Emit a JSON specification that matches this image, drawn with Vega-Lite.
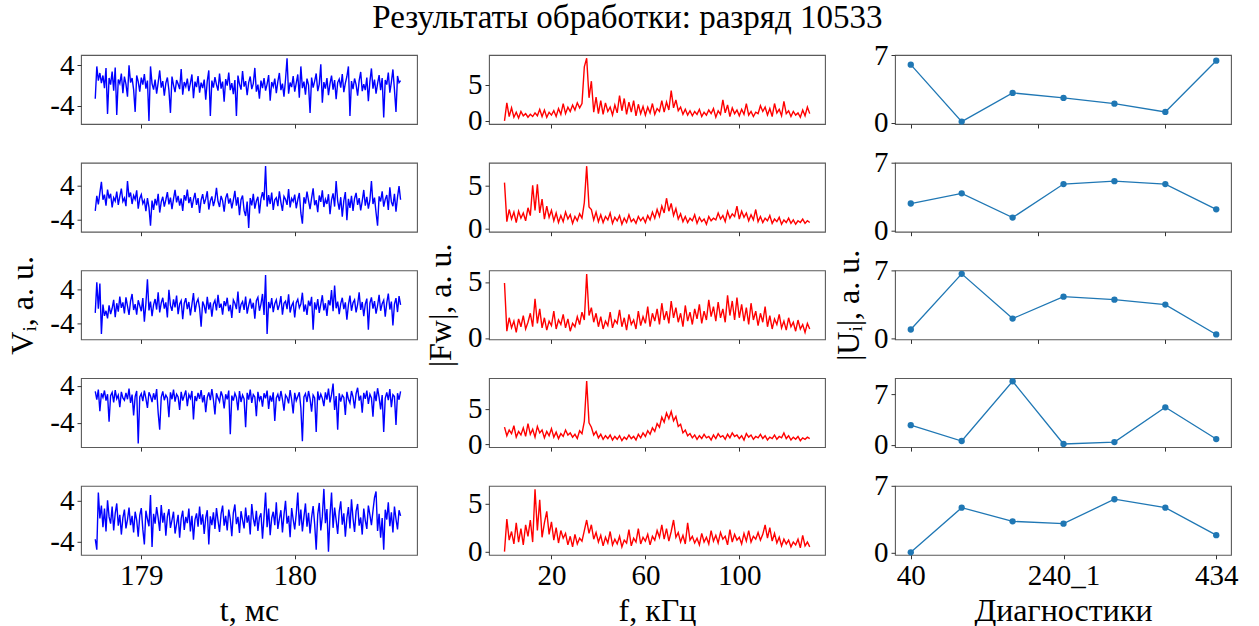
{
  "$schema": "https://vega.github.io/schema/vega-lite/v6.json",
  "title": {"text": "Результаты обработки: разряд 10533", "font": "Liberation Serif, Times New Roman, serif", "fontSize": 33, "fontWeight": "normal", "color": "#000", "anchor": "middle", "offset": 5, "dx": 5},
  "padding": {"left": 6, "right": 20, "top": 2, "bottom": 4},
  "background": "white",
  "config": {
    "view": {"stroke": "#5a5a5a", "strokeWidth": 1.1},
    "axis": {"domain": false, "grid": false, "tickColor": "#333", "tickSize": 4, "tickWidth": 1, "labelFont": "Liberation Serif, Times New Roman, serif", "labelFontSize": 29, "labelColor": "#000", "labelPadding": 3, "labelFlush": false, "labelOverlap": false, "labelBound": false, "titleFont": "Liberation Serif, Times New Roman, serif", "titleFontSize": 32, "titleFontWeight": "normal", "titleColor": "#000"},
    "line": {"clip": true}
  },
  "datasets": {
    "signal": [
      {"t":178.70,"v1":-2.6,"v2":-2.0,"v3":-1.5,"v4":2.8,"v5":-3.5},
      {"t":178.71,"v1":3.8,"v2":1.5,"v3":5.8,"v4":1.0,"v5":-5.5},
      {"t":178.72,"v1":1.0,"v2":-0.5,"v3":-0.5,"v4":3.2,"v5":5.5},
      {"t":178.73,"v1":2.5,"v2":2.2,"v3":5.5,"v4":-1.5,"v5":0.5},
      {"t":178.74,"v1":0.5,"v2":4.8,"v3":-6.5,"v4":2.4,"v5":3.0},
      {"t":178.75,"v1":2.0,"v2":0.6,"v3":0.5,"v4":1.5,"v5":-1.2},
      {"t":178.76,"v1":-0.5,"v2":1.8,"v3":-2.2,"v4":3.0,"v5":2.4},
      {"t":178.77,"v1":3.5,"v2":-0.8,"v3":-1.0,"v4":0.8,"v5":-2.0},
      {"t":178.78,"v1":-5.6,"v2":3.0,"v3":-2.8,"v4":2.2,"v5":4.0},
      {"t":178.79,"v1":1.5,"v2":0.9,"v3":0.3,"v4":-3.8,"v5":0.8},
      {"t":178.80,"v1":0.2,"v2":2.0,"v3":-1.8,"v4":1.9,"v5":-0.5},
      {"t":178.81,"v1":2.8,"v2":-1.2,"v3":-0.4,"v4":2.6,"v5":2.8},
      {"t":178.82,"v1":-1.0,"v2":1.1,"v3":1.6,"v4":0.4,"v5":-1.8},
      {"t":178.83,"v1":3.6,"v2":0.3,"v3":-2.5,"v4":3.1,"v5":1.5},
      {"t":178.84,"v1":-5.8,"v2":2.5,"v3":0.8,"v4":1.2,"v5":3.4},
      {"t":178.85,"v1":1.2,"v2":-0.6,"v3":-1.2,"v4":2.0,"v5":-0.9},
      {"t":178.86,"v1":0.4,"v2":1.4,"v3":2.4,"v4":-0.6,"v5":1.2},
      {"t":178.87,"v1":2.4,"v2":3.2,"v3":-0.3,"v4":2.7,"v5":-2.6},
      {"t":178.88,"v1":-1.5,"v2":0.2,"v3":1.0,"v4":1.4,"v5":0.6},
      {"t":178.89,"v1":1.8,"v2":1.0,"v3":-1.6,"v4":0.9,"v5":2.2},
      {"t":178.90,"v1":0.3,"v2":-0.9,"v3":2.2,"v4":2.5,"v5":-1.4},
      {"t":178.91,"v1":-2.2,"v2":5.0,"v3":0.1,"v4":1.1,"v5":0.3},
      {"t":178.92,"v1":4.0,"v2":1.2,"v3":-2.0,"v4":3.4,"v5":2.6},
      {"t":178.93,"v1":0.6,"v2":2.3,"v3":1.3,"v4":0.3,"v5":-0.8},
      {"t":178.94,"v1":1.5,"v2":-0.4,"v3":3.0,"v4":2.1,"v5":1.0},
      {"t":178.95,"v1":-0.8,"v2":1.6,"v3":-0.8,"v4":-2.4,"v5":-2.2},
      {"t":178.96,"v1":-5.2,"v2":0.7,"v3":0.6,"v4":1.7,"v5":1.8},
      {"t":178.97,"v1":2.0,"v2":2.8,"v3":-1.9,"v4":2.9,"v5":0.2},
      {"t":178.98,"v1":0.8,"v2":-1.5,"v3":1.5,"v4":-8.5,"v5":-3.0},
      {"t":178.99,"v1":-1.2,"v2":0.9,"v3":0.2,"v4":1.6,"v5":1.1},
      {"t":179.00,"v1":1.6,"v2":1.8,"v3":-1.1,"v4":2.3,"v5":2.5},
      {"t":179.01,"v1":0.2,"v2":-0.3,"v3":2.0,"v4":0.7,"v5":-1.6},
      {"t":179.02,"v1":2.3,"v2":0.5,"v3":-3.6,"v4":3.0,"v5":-4.5},
      {"t":179.03,"v1":-0.6,"v2":-2.1,"v3":0.7,"v4":1.3,"v5":2.0},
      {"t":179.04,"v1":1.0,"v2":1.0,"v3":6.5,"v4":-0.8,"v5":0.4},
      {"t":179.05,"v1":-7.0,"v2":-1.2,"v3":-0.9,"v4":2.6,"v5":-1.0},
      {"t":179.06,"v1":3.8,"v2":-5.5,"v3":1.2,"v4":1.8,"v5":5.0},
      {"t":179.07,"v1":0.4,"v2":0.4,"v3":-2.3,"v4":0.5,"v5":-5.0},
      {"t":179.08,"v1":-0.8,"v2":-1.8,"v3":0.4,"v4":2.4,"v5":1.4},
      {"t":179.09,"v1":1.2,"v2":0.8,"v3":1.8,"v4":1.0,"v5":-0.5},
      {"t":179.10,"v1":-1.6,"v2":-0.7,"v3":-0.7,"v4":3.3,"v5":2.7},
      {"t":179.11,"v1":0.6,"v2":2.0,"v3":3.4,"v4":-1.9,"v5":0.6},
      {"t":179.12,"v1":3.0,"v2":-2.4,"v3":-1.4,"v4":-5.5,"v5":-1.9},
      {"t":179.13,"v1":-0.4,"v2":0.1,"v3":0.9,"v4":1.5,"v5":3.1},
      {"t":179.14,"v1":0.9,"v2":1.3,"v3":2.1,"v4":2.8,"v5":-0.3},
      {"t":179.15,"v1":-2.0,"v2":-1.0,"v3":-0.5,"v4":0.9,"v5":1.6},
      {"t":179.16,"v1":0.5,"v2":0.6,"v3":1.0,"v4":2.0,"v5":-2.8},
      {"t":179.17,"v1":1.6,"v2":2.4,"v3":-2.6,"v4":1.4,"v5":0.9},
      {"t":179.18,"v1":-0.9,"v2":-0.5,"v3":4.0,"v4":-2.8,"v5":2.3},
      {"t":179.19,"v1":-5.4,"v2":1.1,"v3":0.3,"v4":2.6,"v5":-1.3},
      {"t":179.20,"v1":1.8,"v2":-1.6,"v3":-1.0,"v4":1.1,"v5":0.2},
      {"t":179.21,"v1":0.1,"v2":0.8,"v3":1.7,"v4":3.2,"v5":1.8},
      {"t":179.22,"v1":-1.3,"v2":2.9,"v3":-0.2,"v4":0.6,"v5":-2.4},
      {"t":179.23,"v1":1.1,"v2":0.0,"v3":2.6,"v4":2.2,"v5":-0.6},
      {"t":179.24,"v1":0.3,"v2":1.5,"v3":-1.8,"v4":1.6,"v5":1.2},
      {"t":179.25,"v1":-0.7,"v2":-0.8,"v3":0.6,"v4":-1.2,"v5":-3.2},
      {"t":179.26,"v1":3.3,"v2":0.9,"v3":1.4,"v4":2.7,"v5":0.5},
      {"t":179.27,"v1":-1.8,"v2":-2.0,"v3":-3.0,"v4":0.8,"v5":2.0},
      {"t":179.28,"v1":0.7,"v2":1.7,"v3":0.8,"v4":1.9,"v5":-1.7},
      {"t":179.29,"v1":-0.2,"v2":0.4,"v3":2.0,"v4":3.0,"v5":0.8},
      {"t":179.30,"v1":1.4,"v2":3.0,"v3":-0.6,"v4":-0.4,"v5":-0.4},
      {"t":179.31,"v1":-1.1,"v2":-0.2,"v3":1.1,"v4":2.1,"v5":2.4},
      {"t":179.32,"v1":0.5,"v2":1.2,"v3":-2.1,"v4":1.3,"v5":-2.0},
      {"t":179.33,"v1":2.2,"v2":-1.3,"v3":0.5,"v4":2.9,"v5":1.0},
      {"t":179.34,"v1":-2.5,"v2":0.7,"v3":3.2,"v4":-3.3,"v5":-3.6},
      {"t":179.35,"v1":0.8,"v2":2.2,"v3":-1.3,"v4":1.8,"v5":0.3},
      {"t":179.36,"v1":-0.3,"v2":-0.6,"v3":0.9,"v4":0.7,"v5":1.5},
      {"t":179.37,"v1":1.9,"v2":1.0,"v3":1.8,"v4":2.5,"v5":-1.1},
      {"t":179.38,"v1":-1.4,"v2":-2.5,"v3":-0.4,"v4":1.2,"v5":2.8},
      {"t":179.39,"v1":0.6,"v2":0.5,"v3":-4.8,"v4":3.1,"v5":-0.7},
      {"t":179.40,"v1":-0.5,"v2":1.9,"v3":1.2,"v4":0.4,"v5":1.3},
      {"t":179.41,"v1":1.2,"v2":-0.4,"v3":0.2,"v4":2.0,"v5":-2.5},
      {"t":179.42,"v1":-2.8,"v2":0.8,"v3":-1.6,"v4":-1.7,"v5":0.6},
      {"t":179.43,"v1":0.9,"v2":2.6,"v3":2.3,"v4":1.5,"v5":2.1},
      {"t":179.44,"v1":3.0,"v2":-1.7,"v3":-0.7,"v4":2.6,"v5":-4.5},
      {"t":179.45,"v1":-6.0,"v2":0.3,"v3":1.0,"v4":0.9,"v5":0.9},
      {"t":179.46,"v1":1.0,"v2":1.4,"v3":-2.4,"v4":3.3,"v5":-0.8},
      {"t":179.47,"v1":-0.4,"v2":-0.9,"v3":0.6,"v4":1.0,"v5":1.7},
      {"t":179.48,"v1":1.7,"v2":0.6,"v3":1.5,"v4":-2.2,"v5":-1.5},
      {"t":179.49,"v1":0.2,"v2":3.4,"v3":-0.9,"v4":2.4,"v5":2.5},
      {"t":179.50,"v1":-1.0,"v2":0.2,"v3":2.8,"v4":1.4,"v5":0.1},
      {"t":179.51,"v1":2.4,"v2":-1.1,"v3":-0.3,"v4":0.6,"v5":-2.1},
      {"t":179.52,"v1":-0.6,"v2":1.5,"v3":0.7,"v4":2.8,"v5":1.4},
      {"t":179.53,"v1":0.8,"v2":0.4,"v3":-1.9,"v4":1.7,"v5":3.0},
      {"t":179.54,"v1":-3.2,"v2":-2.2,"v3":1.3,"v4":-0.9,"v5":-0.9},
      {"t":179.55,"v1":1.3,"v2":1.0,"v3":0.1,"v4":2.2,"v5":1.0},
      {"t":179.56,"v1":0.0,"v2":2.1,"v3":2.1,"v4":1.1,"v5":-1.8},
      {"t":179.57,"v1":2.6,"v2":-0.3,"v3":-1.1,"v4":3.0,"v5":2.2},
      {"t":179.58,"v1":-0.9,"v2":0.9,"v3":0.4,"v4":-6.5,"v5":0.4},
      {"t":179.59,"v1":0.5,"v2":-1.4,"v3":-2.7,"v4":1.9,"v5":-2.9},
      {"t":179.60,"v1":-1.7,"v2":0.5,"v3":1.6,"v4":0.8,"v5":1.6},
      {"t":179.61,"v1":1.1,"v2":2.7,"v3":0.8,"v4":2.4,"v5":3.2},
      {"t":179.62,"v1":-6.0,"v2":-0.8,"v3":-0.6,"v4":1.5,"v5":-0.6},
      {"t":179.63,"v1":2.0,"v2":1.2,"v3":3.6,"v4":-1.3,"v5":0.8},
      {"t":179.64,"v1":0.3,"v2":-3.0,"v3":-1.5,"v4":2.9,"v5":-2.3},
      {"t":179.65,"v1":-0.8,"v2":0.6,"v3":0.5,"v4":0.5,"v5":1.9},
      {"t":179.66,"v1":2.9,"v2":1.6,"v3":1.2,"v4":2.0,"v5":0.2},
      {"t":179.67,"v1":-0.2,"v2":-1.9,"v3":-0.8,"v4":1.2,"v5":-1.4},
      {"t":179.68,"v1":0.9,"v2":-3.2,"v3":2.4,"v4":-5.0,"v5":2.6},
      {"t":179.69,"v1":-1.9,"v2":0.2,"v3":-1.7,"v4":2.5,"v5":-0.3},
      {"t":179.70,"v1":0.6,"v2":-6.0,"v3":0.3,"v4":1.0,"v5":1.1},
      {"t":179.71,"v1":1.8,"v2":1.0,"v3":1.9,"v4":3.2,"v5":-2.6},
      {"t":179.72,"v1":-0.7,"v2":-0.7,"v3":-0.5,"v4":0.3,"v5":3.3},
      {"t":179.73,"v1":0.4,"v2":2.0,"v3":0.9,"v4":2.1,"v5":0.5},
      {"t":179.74,"v1":3.5,"v2":-1.5,"v3":-2.9,"v4":1.6,"v5":-1.0},
      {"t":179.75,"v1":-1.2,"v2":0.3,"v3":1.4,"v4":-2.6,"v5":2.0},
      {"t":179.76,"v1":0.2,"v2":1.3,"v3":2.2,"v4":2.7,"v5":-1.9},
      {"t":179.77,"v1":-2.6,"v2":-2.6,"v3":-1.0,"v4":0.9,"v5":0.7},
      {"t":179.78,"v1":1.0,"v2":0.8,"v3":0.6,"v4":1.8,"v5":1.5},
      {"t":179.79,"v1":-0.5,"v2":2.4,"v3":3.0,"v4":-0.5,"v5":-3.4},
      {"t":179.80,"v1":1.5,"v2":0.5,"v3":-2.0,"v4":2.4,"v5":0.9},
      {"t":179.81,"v1":-1.0,"v2":8.5,"v3":7.5,"v4":1.3,"v5":5.5},
      {"t":179.82,"v1":0.3,"v2":-1.0,"v3":-6.5,"v4":3.0,"v5":-1.2},
      {"t":179.83,"v1":2.1,"v2":1.7,"v3":1.1,"v4":-1.0,"v5":2.4},
      {"t":179.84,"v1":-3.0,"v2":-0.4,"v3":-0.4,"v4":1.9,"v5":-2.7},
      {"t":179.85,"v1":0.7,"v2":2.3,"v3":2.0,"v4":0.6,"v5":0.6},
      {"t":179.86,"v1":-0.2,"v2":-1.8,"v3":-1.3,"v4":2.6,"v5":1.8},
      {"t":179.87,"v1":1.4,"v2":0.6,"v3":0.7,"v4":-3.6,"v5":-0.8},
      {"t":179.88,"v1":-1.5,"v2":1.1,"v3":1.6,"v4":1.4,"v5":3.6},
      {"t":179.89,"v1":0.8,"v2":-0.9,"v3":-0.8,"v4":2.2,"v5":-1.5},
      {"t":179.90,"v1":2.5,"v2":2.6,"v3":0.4,"v4":0.7,"v5":0.4},
      {"t":179.91,"v1":-0.9,"v2":0.0,"v3":2.5,"v4":2.9,"v5":2.1},
      {"t":179.92,"v1":0.4,"v2":-2.0,"v3":-1.9,"v4":1.1,"v5":-2.2},
      {"t":179.93,"v1":-2.2,"v2":1.4,"v3":0.8,"v4":-1.4,"v5":1.2},
      {"t":179.94,"v1":1.2,"v2":0.7,"v3":1.3,"v4":2.0,"v5":3.9},
      {"t":179.95,"v1":5.4,"v2":-0.6,"v3":-0.6,"v4":1.5,"v5":-0.5},
      {"t":179.96,"v1":-1.6,"v2":3.1,"v3":2.9,"v4":0.2,"v5":1.0},
      {"t":179.97,"v1":0.6,"v2":-1.2,"v3":-1.4,"v4":3.1,"v5":-3.1},
      {"t":179.98,"v1":-0.3,"v2":0.9,"v3":0.2,"v4":1.0,"v5":2.5},
      {"t":179.99,"v1":1.9,"v2":0.2,"v3":1.0,"v4":-2.0,"v5":0.3},
      {"t":180.00,"v1":-1.2,"v2":1.8,"v3":-2.6,"v4":2.5,"v5":-1.6},
      {"t":180.01,"v1":0.5,"v2":-1.4,"v3":0.9,"v4":0.8,"v5":1.4},
      {"t":180.02,"v1":2.2,"v2":0.6,"v3":1.7,"v4":1.7,"v5":5.5},
      {"t":180.03,"v1":-2.4,"v2":2.2,"v3":-0.3,"v4":2.6,"v5":-0.9},
      {"t":180.04,"v1":3.8,"v2":-2.5,"v3":0.6,"v4":-0.8,"v5":2.2},
      {"t":180.05,"v1":-0.5,"v2":-5.0,"v3":3.3,"v4":-8.0,"v5":-2.0},
      {"t":180.06,"v1":0.8,"v2":1.2,"v3":-1.2,"v4":1.6,"v5":0.8},
      {"t":180.07,"v1":-1.8,"v2":-0.3,"v3":0.5,"v4":2.3,"v5":3.4},
      {"t":180.08,"v1":1.4,"v2":2.5,"v3":-2.0,"v4":0.5,"v5":-1.1},
      {"t":180.09,"v1":0.1,"v2":0.4,"v3":1.4,"v4":2.9,"v5":1.6},
      {"t":180.10,"v1":-5.4,"v2":-1.6,"v3":0.1,"v4":1.2,"v5":-2.4},
      {"t":180.11,"v1":1.6,"v2":1.0,"v3":2.3,"v4":-1.6,"v5":0.7},
      {"t":180.12,"v1":-0.4,"v2":3.3,"v3":-5.5,"v4":2.0,"v5":2.9},
      {"t":180.13,"v1":0.9,"v2":-0.7,"v3":1.0,"v4":1.4,"v5":-0.6},
      {"t":180.14,"v1":2.4,"v2":0.5,"v3":-0.7,"v4":-6.0,"v5":-5.5},
      {"t":180.15,"v1":-1.1,"v2":-2.3,"v3":1.8,"v4":2.8,"v5":1.3},
      {"t":180.16,"v1":0.3,"v2":1.6,"v3":-1.5,"v4":0.9,"v5":3.5},
      {"t":180.17,"v1":4.2,"v2":0.1,"v3":0.6,"v4":2.2,"v5":-1.8},
      {"t":180.18,"v1":-3.4,"v2":2.8,"v3":2.7,"v4":1.3,"v5":0.9},
      {"t":180.19,"v1":0.7,"v2":-1.1,"v3":-0.9,"v4":-0.4,"v5":6.2},
      {"t":180.20,"v1":-0.6,"v2":0.7,"v3":0.8,"v4":2.6,"v5":-0.4},
      {"t":180.21,"v1":1.5,"v2":-0.4,"v3":-2.2,"v4":1.0,"v5":2.3},
      {"t":180.22,"v1":-1.9,"v2":1.9,"v3":1.5,"v4":3.4,"v5":-5.9},
      {"t":180.23,"v1":0.4,"v2":-2.8,"v3":0.3,"v4":0.4,"v5":1.1},
      {"t":180.24,"v1":2.0,"v2":0.6,"v3":3.9,"v4":2.1,"v5":5.5},
      {"t":180.25,"v1":-0.8,"v2":2.1,"v3":-1.1,"v4":4.5,"v5":-1.3},
      {"t":180.26,"v1":1.1,"v2":-1.0,"v3":5.0,"v4":-1.2,"v5":2.6},
      {"t":180.27,"v1":-2.7,"v2":5.0,"v3":-0.4,"v4":1.8,"v5":0.2},
      {"t":180.28,"v1":0.6,"v2":0.3,"v3":1.2,"v4":-5.5,"v5":-2.5},
      {"t":180.29,"v1":1.3,"v2":-1.7,"v3":-1.8,"v4":2.4,"v5":1.8},
      {"t":180.30,"v1":-0.4,"v2":1.2,"v3":0.7,"v4":0.6,"v5":3.8},
      {"t":180.31,"v1":2.3,"v2":-3.4,"v3":2.1,"v4":2.0,"v5":-0.7},
      {"t":180.32,"v1":-1.3,"v2":0.4,"v3":-0.6,"v4":1.5,"v5":1.5},
      {"t":180.33,"v1":0.5,"v2":2.4,"v3":1.0,"v4":-2.3,"v5":-3.0},
      {"t":180.34,"v1":1.8,"v2":-4.2,"v3":-3.1,"v4":2.7,"v5":0.6},
      {"t":180.35,"v1":3.8,"v2":0.8,"v3":0.4,"v4":1.1,"v5":2.7},
      {"t":180.36,"v1":-6.0,"v2":-1.3,"v3":2.6,"v4":0.3,"v5":-1.4},
      {"t":180.37,"v1":0.9,"v2":1.5,"v3":-1.0,"v4":2.9,"v5":4.2},
      {"t":180.38,"v1":-0.7,"v2":-2.0,"v3":0.9,"v4":1.6,"v5":0.5},
      {"t":180.39,"v1":1.4,"v2":0.9,"v3":1.6,"v4":-0.9,"v5":-2.1},
      {"t":180.40,"v1":0.2,"v2":2.2,"v3":-1.4,"v4":2.3,"v5":1.9},
      {"t":180.41,"v1":-2.0,"v2":-0.6,"v3":0.5,"v4":3.6,"v5":3.3},
      {"t":180.42,"v1":1.0,"v2":1.0,"v3":3.4,"v4":0.8,"v5":-0.9},
      {"t":180.43,"v1":2.7,"v2":-1.9,"v3":-0.8,"v4":1.9,"v5":0.7},
      {"t":180.44,"v1":-1.1,"v2":0.3,"v3":1.1,"v4":-1.8,"v5":-2.6},
      {"t":180.45,"v1":0.3,"v2":2.9,"v3":-2.3,"v4":2.5,"v5":2.4},
      {"t":180.46,"v1":-0.9,"v2":-0.8,"v3":0.6,"v4":1.2,"v5":0.1},
      {"t":180.47,"v1":1.6,"v2":1.3,"v3":1.9,"v4":3.0,"v5":-1.5},
      {"t":180.48,"v1":-3.1,"v2":-1.5,"v3":-5.5,"v4":0.1,"v5":3.0},
      {"t":180.49,"v1":0.8,"v2":0.5,"v3":0.8,"v4":2.2,"v5":1.2},
      {"t":180.50,"v1":3.4,"v2":5.0,"v3":2.2,"v4":1.4,"v5":-0.8},
      {"t":180.51,"v1":-0.6,"v2":-0.4,"v3":-0.5,"v4":-2.7,"v5":2.0},
      {"t":180.52,"v1":1.2,"v2":1.1,"v3":1.3,"v4":2.8,"v5":4.5},
      {"t":180.53,"v1":-1.6,"v2":-2.4,"v3":-1.7,"v4":0.7,"v5":5.7},
      {"t":180.54,"v1":0.4,"v2":-5.5,"v3":0.2,"v4":3.5,"v5":-1.9},
      {"t":180.55,"v1":2.1,"v2":1.4,"v3":2.8,"v4":1.5,"v5":1.4},
      {"t":180.56,"v1":-0.9,"v2":0.2,"v3":-1.0,"v4":-1.1,"v5":-3.2},
      {"t":180.57,"v1":1.5,"v2":2.6,"v3":0.7,"v4":2.0,"v5":0.6},
      {"t":180.58,"v1":-6.3,"v2":-1.0,"v3":1.5,"v4":-6.0,"v5":-5.5},
      {"t":180.59,"v1":1.1,"v2":0.7,"v3":-2.4,"v4":1.3,"v5":2.2},
      {"t":180.60,"v1":0.2,"v2":1.7,"v3":0.9,"v4":2.6,"v5":0.3},
      {"t":180.61,"v1":2.6,"v2":-1.8,"v3":3.1,"v4":0.9,"v5":3.6},
      {"t":180.62,"v1":-1.4,"v2":3.5,"v3":-0.7,"v4":3.3,"v5":-1.0},
      {"t":180.63,"v1":0.7,"v2":0.1,"v3":1.2,"v4":-0.6,"v5":1.7},
      {"t":180.64,"v1":3.2,"v2":-0.9,"v3":-4.5,"v4":2.1,"v5":-2.2},
      {"t":180.65,"v1":-0.8,"v2":2.0,"v3":0.6,"v4":1.7,"v5":2.8},
      {"t":180.66,"v1":-5.2,"v2":-2.2,"v3":2.0,"v4":-4.5,"v5":0.4},
      {"t":180.67,"v1":1.9,"v2":1.2,"v3":-1.3,"v4":2.4,"v5":-1.6},
      {"t":180.68,"v1":0.6,"v2":3.8,"v3":2.5,"v4":1.0,"v5":2.1},
      {"t":180.69,"v1":1.0,"v2":0.6,"v3":0.4,"v4":2.8,"v5":1.0}
    ],
    "spectrum": [
      {"f":0,"w1":0.0,"w2":5.3,"w3":4.9,"w4":2.4,"w5":0.0},
      {"f":1,"w1":2.5,"w2":0.8,"w3":0.6,"w4":1.2,"w5":3.4},
      {"f":2,"w1":0.6,"w2":2.2,"w3":1.8,"w4":2.0,"w5":1.2},
      {"f":3,"w1":1.8,"w2":1.1,"w3":0.9,"w4":1.5,"w5":2.1},
      {"f":4,"w1":0.5,"w2":1.9,"w3":1.5,"w4":2.6,"w5":0.8},
      {"f":5,"w1":1.2,"w2":0.7,"w3":0.5,"w4":1.0,"w5":3.0},
      {"f":6,"w1":0.4,"w2":2.0,"w3":1.7,"w4":1.8,"w5":1.0},
      {"f":7,"w1":1.3,"w2":1.2,"w3":1.0,"w4":1.3,"w5":2.4},
      {"f":8,"w1":0.7,"w2":1.8,"w3":2.0,"w4":2.3,"w5":0.7},
      {"f":9,"w1":1.0,"w2":0.9,"w3":0.8,"w4":1.1,"w5":2.8},
      {"f":10,"w1":0.5,"w2":2.4,"w3":1.4,"w4":2.9,"w5":1.6},
      {"f":11,"w1":0.9,"w2":1.5,"w3":2.2,"w4":1.4,"w5":3.3},
      {"f":12,"w1":0.6,"w2":5.0,"w3":1.0,"w4":2.1,"w5":1.0},
      {"f":13,"w1":1.1,"w2":2.1,"w3":3.5,"w4":1.0,"w5":6.5},
      {"f":14,"w1":0.7,"w2":5.1,"w3":1.3,"w4":2.5,"w5":2.2},
      {"f":15,"w1":1.6,"w2":1.8,"w3":2.6,"w4":1.6,"w5":5.4},
      {"f":16,"w1":0.6,"w2":3.4,"w3":0.9,"w4":2.0,"w5":1.5},
      {"f":17,"w1":1.5,"w2":1.1,"w3":1.8,"w4":0.9,"w5":3.0},
      {"f":18,"w1":0.5,"w2":2.6,"w3":0.7,"w4":1.8,"w5":4.2},
      {"f":19,"w1":1.2,"w2":1.3,"w3":1.5,"w4":1.2,"w5":1.8},
      {"f":20,"w1":0.8,"w2":2.1,"w3":1.1,"w4":2.2,"w5":3.1},
      {"f":21,"w1":1.4,"w2":0.9,"w3":2.4,"w4":1.0,"w5":1.2},
      {"f":22,"w1":0.6,"w2":1.8,"w3":0.8,"w4":1.7,"w5":2.5},
      {"f":23,"w1":1.7,"w2":0.7,"w3":1.6,"w4":0.8,"w5":0.9},
      {"f":24,"w1":0.9,"w2":1.5,"w3":1.2,"w4":1.5,"w5":2.2},
      {"f":25,"w1":2.4,"w2":0.8,"w3":2.1,"w4":1.1,"w5":1.4},
      {"f":26,"w1":1.0,"w2":1.9,"w3":0.9,"w4":2.0,"w5":1.9},
      {"f":27,"w1":1.9,"w2":1.1,"w3":1.7,"w4":1.3,"w5":0.7},
      {"f":28,"w1":1.3,"w2":1.6,"w3":0.6,"w4":1.6,"w5":1.6},
      {"f":29,"w1":2.2,"w2":0.6,"w3":1.3,"w4":1.0,"w5":0.5},
      {"f":30,"w1":1.5,"w2":1.4,"w3":1.0,"w4":1.4,"w5":1.8},
      {"f":31,"w1":2.5,"w2":0.9,"w3":1.9,"w4":0.8,"w5":0.8},
      {"f":32,"w1":1.8,"w2":1.7,"w3":1.2,"w4":1.9,"w5":1.4},
      {"f":33,"w1":2.4,"w2":1.2,"w3":2.3,"w4":1.5,"w5":1.1},
      {"f":34,"w1":7.5,"w2":3.0,"w3":1.6,"w4":3.2,"w5":2.2},
      {"f":35,"w1":8.7,"w2":7.2,"w3":5.7,"w4":8.9,"w5":3.3},
      {"f":36,"w1":3.2,"w2":2.5,"w3":2.0,"w4":3.0,"w5":1.9},
      {"f":37,"w1":5.5,"w2":2.2,"w3":2.7,"w4":2.4,"w5":2.8},
      {"f":38,"w1":1.2,"w2":1.0,"w3":1.4,"w4":1.3,"w5":1.3},
      {"f":39,"w1":3.3,"w2":1.9,"w3":2.2,"w4":1.8,"w5":2.0},
      {"f":40,"w1":1.0,"w2":0.8,"w3":1.0,"w4":0.9,"w5":1.0},
      {"f":41,"w1":2.8,"w2":1.6,"w3":1.9,"w4":1.4,"w5":1.7},
      {"f":42,"w1":0.9,"w2":0.7,"w3":0.8,"w4":0.7,"w5":0.6},
      {"f":43,"w1":2.5,"w2":1.4,"w3":1.5,"w4":1.2,"w5":1.5},
      {"f":44,"w1":1.3,"w2":1.0,"w3":1.1,"w4":0.8,"w5":0.9},
      {"f":45,"w1":1.9,"w2":1.8,"w3":2.3,"w4":1.3,"w5":2.1},
      {"f":46,"w1":0.8,"w2":0.6,"w3":0.9,"w4":0.6,"w5":0.7},
      {"f":47,"w1":2.2,"w2":1.3,"w3":1.6,"w4":1.1,"w5":1.3},
      {"f":48,"w1":1.1,"w2":0.9,"w3":1.3,"w4":0.7,"w5":0.8},
      {"f":49,"w1":3.5,"w2":1.5,"w3":2.5,"w4":1.2,"w5":1.6},
      {"f":50,"w1":1.4,"w2":0.5,"w3":1.0,"w4":0.5,"w5":0.5},
      {"f":51,"w1":3.1,"w2":1.2,"w3":1.8,"w4":1.0,"w5":1.2},
      {"f":52,"w1":0.9,"w2":0.7,"w3":0.7,"w4":0.7,"w5":0.9},
      {"f":53,"w1":2.6,"w2":1.6,"w3":2.1,"w4":1.3,"w5":2.3},
      {"f":54,"w1":1.2,"w2":0.8,"w3":1.2,"w4":0.8,"w5":0.6},
      {"f":55,"w1":2.8,"w2":1.1,"w3":1.6,"w4":1.1,"w5":1.4},
      {"f":56,"w1":0.7,"w2":0.6,"w3":0.8,"w4":0.6,"w5":1.0},
      {"f":57,"w1":2.3,"w2":1.4,"w3":2.4,"w4":1.4,"w5":2.4},
      {"f":58,"w1":1.0,"w2":0.9,"w3":1.1,"w4":0.9,"w5":0.8},
      {"f":59,"w1":2.0,"w2":1.3,"w3":1.9,"w4":1.6,"w5":1.5},
      {"f":60,"w1":0.8,"w2":0.7,"w3":1.3,"w4":1.1,"w5":1.1},
      {"f":61,"w1":1.9,"w2":1.5,"w3":2.8,"w4":1.9,"w5":1.8},
      {"f":62,"w1":1.1,"w2":1.0,"w3":1.0,"w4":1.4,"w5":0.7},
      {"f":63,"w1":2.4,"w2":1.9,"w3":2.2,"w4":2.3,"w5":1.6},
      {"f":64,"w1":0.9,"w2":1.2,"w3":1.5,"w4":1.8,"w5":1.2},
      {"f":65,"w1":1.7,"w2":2.2,"w3":2.6,"w4":2.9,"w5":2.2},
      {"f":66,"w1":1.3,"w2":1.4,"w3":1.2,"w4":2.4,"w5":1.5},
      {"f":67,"w1":2.8,"w2":2.6,"w3":3.1,"w4":3.8,"w5":2.8},
      {"f":68,"w1":1.2,"w2":1.8,"w3":1.6,"w4":3.1,"w5":1.3},
      {"f":69,"w1":2.6,"w2":3.5,"w3":2.4,"w4":4.4,"w5":2.4},
      {"f":70,"w1":1.5,"w2":2.0,"w3":1.3,"w4":3.6,"w5":1.1},
      {"f":71,"w1":4.2,"w2":2.9,"w3":3.3,"w4":4.6,"w5":2.1},
      {"f":72,"w1":1.8,"w2":1.5,"w3":1.8,"w4":3.3,"w5":3.3},
      {"f":73,"w1":2.9,"w2":2.3,"w3":2.7,"w4":3.9,"w5":1.5},
      {"f":74,"w1":1.4,"w2":1.1,"w3":1.4,"w4":2.5,"w5":2.0},
      {"f":75,"w1":1.9,"w2":1.7,"w3":2.2,"w4":2.8,"w5":1.0},
      {"f":76,"w1":0.9,"w2":0.8,"w3":1.0,"w4":1.6,"w5":1.7},
      {"f":77,"w1":1.6,"w2":1.4,"w3":2.9,"w4":2.0,"w5":0.8},
      {"f":78,"w1":0.8,"w2":0.7,"w3":1.5,"w4":1.2,"w5":3.0},
      {"f":79,"w1":1.4,"w2":1.2,"w3":2.3,"w4":1.5,"w5":1.2},
      {"f":80,"w1":0.7,"w2":0.9,"w3":1.2,"w4":0.9,"w5":1.6},
      {"f":81,"w1":1.3,"w2":1.6,"w3":2.6,"w4":1.3,"w5":0.9},
      {"f":82,"w1":0.9,"w2":0.6,"w3":1.7,"w4":0.7,"w5":1.4},
      {"f":83,"w1":1.6,"w2":1.3,"w3":3.0,"w4":1.2,"w5":0.7},
      {"f":84,"w1":0.6,"w2":0.8,"w3":1.3,"w4":0.8,"w5":1.9},
      {"f":85,"w1":1.2,"w2":1.1,"w3":2.4,"w4":1.4,"w5":1.0},
      {"f":86,"w1":0.8,"w2":0.5,"w3":1.6,"w4":0.9,"w5":1.5},
      {"f":87,"w1":1.5,"w2":1.4,"w3":3.4,"w4":1.1,"w5":0.8},
      {"f":88,"w1":1.0,"w2":0.9,"w3":1.9,"w4":0.6,"w5":2.2},
      {"f":89,"w1":1.7,"w2":1.2,"w3":2.8,"w4":1.3,"w5":1.1},
      {"f":90,"w1":0.5,"w2":1.0,"w3":1.5,"w4":0.8,"w5":1.7},
      {"f":91,"w1":1.4,"w2":1.8,"w3":3.2,"w4":1.5,"w5":0.9},
      {"f":92,"w1":0.9,"w2":1.1,"w3":1.8,"w4":1.0,"w5":2.0},
      {"f":93,"w1":2.9,"w2":1.5,"w3":2.6,"w4":1.2,"w5":1.3},
      {"f":94,"w1":1.1,"w2":0.8,"w3":1.4,"w4":0.7,"w5":1.6},
      {"f":95,"w1":2.2,"w2":2.0,"w3":3.8,"w4":1.4,"w5":0.7},
      {"f":96,"w1":0.6,"w2":1.2,"w3":2.0,"w4":0.9,"w5":2.3},
      {"f":97,"w1":1.8,"w2":1.7,"w3":3.3,"w4":1.6,"w5":1.0},
      {"f":98,"w1":1.0,"w2":1.4,"w3":1.6,"w4":1.1,"w5":1.8},
      {"f":99,"w1":1.5,"w2":2.6,"w3":3.6,"w4":1.3,"w5":1.2},
      {"f":100,"w1":0.7,"w2":1.1,"w3":1.8,"w4":0.8,"w5":1.5},
      {"f":101,"w1":1.6,"w2":2.0,"w3":3.0,"w4":1.2,"w5":0.8},
      {"f":102,"w1":0.9,"w2":1.3,"w3":1.5,"w4":0.6,"w5":1.9},
      {"f":103,"w1":2.4,"w2":1.8,"w3":2.7,"w4":1.5,"w5":1.1},
      {"f":104,"w1":0.8,"w2":0.9,"w3":1.2,"w4":1.0,"w5":2.2},
      {"f":105,"w1":1.3,"w2":1.6,"w3":3.1,"w4":1.3,"w5":1.0},
      {"f":106,"w1":0.6,"w2":1.0,"w3":1.6,"w4":0.7,"w5":1.6},
      {"f":107,"w1":1.2,"w2":2.2,"w3":2.4,"w4":1.1,"w5":1.3},
      {"f":108,"w1":1.0,"w2":0.8,"w3":1.1,"w4":0.9,"w5":2.0},
      {"f":109,"w1":2.1,"w2":1.4,"w3":2.2,"w4":1.4,"w5":1.2},
      {"f":110,"w1":1.3,"w2":0.7,"w3":1.4,"w4":0.8,"w5":1.8},
      {"f":111,"w1":1.9,"w2":1.2,"w3":2.8,"w4":1.2,"w5":2.8},
      {"f":112,"w1":0.8,"w2":0.9,"w3":1.0,"w4":0.6,"w5":1.4},
      {"f":113,"w1":1.7,"w2":1.5,"w3":2.0,"w4":1.0,"w5":2.5},
      {"f":114,"w1":0.6,"w2":0.6,"w3":0.8,"w4":0.8,"w5":1.1},
      {"f":115,"w1":2.4,"w2":1.1,"w3":1.7,"w4":1.3,"w5":1.9},
      {"f":116,"w1":1.1,"w2":0.8,"w3":1.2,"w4":0.7,"w5":0.9},
      {"f":117,"w1":1.6,"w2":1.3,"w3":2.1,"w4":1.1,"w5":1.5},
      {"f":118,"w1":0.7,"w2":0.5,"w3":0.9,"w4":0.9,"w5":0.6},
      {"f":119,"w1":2.7,"w2":1.0,"w3":1.5,"w4":1.6,"w5":1.3},
      {"f":120,"w1":1.0,"w2":0.7,"w3":0.7,"w4":0.8,"w5":0.8},
      {"f":121,"w1":1.4,"w2":1.2,"w3":1.8,"w4":1.2,"w5":1.2},
      {"f":122,"w1":0.6,"w2":0.6,"w3":1.0,"w4":0.6,"w5":0.5},
      {"f":123,"w1":1.3,"w2":1.0,"w3":1.4,"w4":1.0,"w5":1.0},
      {"f":124,"w1":0.8,"w2":0.5,"w3":0.6,"w4":0.7,"w5":0.7},
      {"f":125,"w1":1.1,"w2":0.9,"w3":1.6,"w4":1.1,"w5":1.3},
      {"f":126,"w1":0.5,"w2":0.7,"w3":0.8,"w4":0.5,"w5":0.4},
      {"f":127,"w1":1.5,"w2":1.1,"w3":1.2,"w4":0.9,"w5":1.7},
      {"f":128,"w1":0.7,"w2":0.6,"w3":0.5,"w4":0.7,"w5":0.6},
      {"f":129,"w1":1.9,"w2":0.9,"w3":1.3,"w4":1.0,"w5":1.0},
      {"f":130,"w1":1.0,"w2":0.7,"w3":0.8,"w4":0.8,"w5":0.5}
    ],
    "diagnostics": [
      {"k":0,"u1":6.0,"u2":2.8,"u3":0.92,"u4":2.74,"u5":0.06},
      {"k":1,"u1":0.1,"u2":3.85,"u3":6.65,"u4":0.55,"u5":4.72},
      {"k":2,"u1":3.07,"u2":1.35,"u3":2.04,"u4":8.8,"u5":3.29},
      {"k":3,"u1":2.55,"u2":4.8,"u3":4.3,"u4":0.14,"u5":3.05},
      {"k":4,"u1":1.96,"u2":5.1,"u3":3.99,"u4":0.4,"u5":5.6},
      {"k":5,"u1":1.1,"u2":4.8,"u3":3.48,"u4":5.2,"u5":4.72},
      {"k":6,"u1":6.41,"u2":2.2,"u3":0.41,"u4":0.82,"u5":1.85}
    ]
  },
  "spacing": 5,
  "hconcat": [
    {
      "bounds": "flush",
      "spacing": 38.7,
      "vconcat": [
        {"width": 336, "height": 69, "data": {"name": "signal"},
         "mark": {"type": "line", "color": "#0000ff", "strokeWidth": 1.4},
         "encoding": {
           "x": {"field": "t", "type": "quantitative", "scale": {"domain": [178.607, 180.797], "nice": false, "zero": false}, "axis": {"values": [179, 180], "labels": false, "title": null}},
           "y": {"field": "v1", "type": "quantitative", "scale": {"domain": [-7.6, 6.06], "nice": false, "zero": false}, "axis": {"values": [-4, 4], "title": null, "labelExpr": "replace(datum.label, '−', '-')"}}}},
        {"width": 336, "height": 69, "data": {"name": "signal"},
         "mark": {"type": "line", "color": "#0000ff", "strokeWidth": 1.4},
         "encoding": {
           "x": {"field": "t", "type": "quantitative", "scale": {"domain": [178.607, 180.797], "nice": false, "zero": false}, "axis": {"values": [179, 180], "labels": false, "title": null}},
           "y": {"field": "v2", "type": "quantitative", "scale": {"domain": [-6.9, 9.3], "nice": false, "zero": false}, "axis": {"values": [-4, 4], "title": null, "labelExpr": "replace(datum.label, '−', '-')"}}}},
        {"width": 336, "height": 69, "data": {"name": "signal"},
         "mark": {"type": "line", "color": "#0000ff", "strokeWidth": 1.4},
         "encoding": {
           "x": {"field": "t", "type": "quantitative", "scale": {"domain": [178.607, 180.797], "nice": false, "zero": false}, "axis": {"values": [179, 180], "labels": false, "title": null}},
           "y": {"field": "v3", "type": "quantitative", "scale": {"domain": [-7.8, 8.6], "nice": false, "zero": false}, "axis": {"values": [-4, 4], "title": "Vᵢ, a. u.", "titlePadding": 10, "labelExpr": "replace(datum.label, '−', '-')"}}}},
        {"width": 336, "height": 69, "data": {"name": "signal"},
         "mark": {"type": "line", "color": "#0000ff", "strokeWidth": 1.4},
         "encoding": {
           "x": {"field": "t", "type": "quantitative", "scale": {"domain": [178.607, 180.797], "nice": false, "zero": false}, "axis": {"values": [179, 180], "labels": false, "title": null}},
           "y": {"field": "v4", "type": "quantitative", "scale": {"domain": [-9.3, 5.7], "nice": false, "zero": false}, "axis": {"values": [-4, 4], "title": null, "labelExpr": "replace(datum.label, '−', '-')"}}}},
        {"width": 336, "height": 69, "data": {"name": "signal"},
         "mark": {"type": "line", "color": "#0000ff", "strokeWidth": 1.4},
         "encoding": {
           "x": {"field": "t", "type": "quantitative", "scale": {"domain": [178.607, 180.797], "nice": false, "zero": false}, "axis": {"values": [179, 180], "format": "d", "title": "t, мс", "titlePadding": 5}},
           "y": {"field": "v5", "type": "quantitative", "scale": {"domain": [-6.5, 6.8], "nice": false, "zero": false}, "axis": {"values": [-4, 4], "title": null, "labelExpr": "replace(datum.label, '−', '-')"}}}}
      ]
    },
    {
      "bounds": "flush",
      "spacing": 38.7,
      "vconcat": [
        {"width": 336, "height": 69, "data": {"name": "spectrum"},
         "mark": {"type": "line", "color": "#ff0000", "strokeWidth": 1.4},
         "encoding": {
           "x": {"field": "f", "type": "quantitative", "scale": {"domain": [-6.6, 136.5], "nice": false, "zero": false}, "axis": {"values": [20, 60, 100], "labels": false, "title": null}},
           "y": {"field": "w1", "type": "quantitative", "scale": {"domain": [-0.44, 9.14], "nice": false, "zero": false}, "axis": {"values": [0, 5], "title": null}}}},
        {"width": 336, "height": 69, "data": {"name": "spectrum"},
         "mark": {"type": "line", "color": "#ff0000", "strokeWidth": 1.4},
         "encoding": {
           "x": {"field": "f", "type": "quantitative", "scale": {"domain": [-6.6, 136.5], "nice": false, "zero": false}, "axis": {"values": [20, 60, 100], "labels": false, "title": null}},
           "y": {"field": "w2", "type": "quantitative", "scale": {"domain": [-0.36, 7.6], "nice": false, "zero": false}, "axis": {"values": [0, 5], "title": null}}}},
        {"width": 336, "height": 69, "data": {"name": "spectrum"},
         "mark": {"type": "line", "color": "#ff0000", "strokeWidth": 1.4},
         "encoding": {
           "x": {"field": "f", "type": "quantitative", "scale": {"domain": [-6.6, 136.5], "nice": false, "zero": false}, "axis": {"values": [20, 60, 100], "labels": false, "title": null}},
           "y": {"field": "w3", "type": "quantitative", "scale": {"domain": [-0.13, 6.03], "nice": false, "zero": false}, "axis": {"values": [0, 5], "title": "|Fᴡ|, a. u.", "titlePadding": 10}}}},
        {"width": 336, "height": 69, "data": {"name": "spectrum"},
         "mark": {"type": "line", "color": "#ff0000", "strokeWidth": 1.4},
         "encoding": {
           "x": {"field": "f", "type": "quantitative", "scale": {"domain": [-6.6, 136.5], "nice": false, "zero": false}, "axis": {"values": [20, 60, 100], "labels": false, "title": null}},
           "y": {"field": "w4", "type": "quantitative", "scale": {"domain": [-0.4, 9.3], "nice": false, "zero": false}, "axis": {"values": [0, 5], "title": null}}}},
        {"width": 336, "height": 69, "data": {"name": "spectrum"},
         "mark": {"type": "line", "color": "#ff0000", "strokeWidth": 1.4},
         "encoding": {
           "x": {"field": "f", "type": "quantitative", "scale": {"domain": [-6.6, 136.5], "nice": false, "zero": false}, "axis": {"values": [20, 60, 100], "format": "d", "title": "f, кГц", "titlePadding": 5}},
           "y": {"field": "w5", "type": "quantitative", "scale": {"domain": [-0.33, 6.87], "nice": false, "zero": false}, "axis": {"values": [0, 5], "title": null}}}}
      ]
    },
    {
      "bounds": "flush",
      "spacing": 38.7,
      "vconcat": [
        {"width": 336, "height": 69, "data": {"name": "diagnostics"},
         "mark": {"type": "line", "color": "#1f77b4", "strokeWidth": 1.3, "point": {"filled": true, "size": 40, "color": "#1f77b4"}},
         "encoding": {
           "x": {"field": "k", "type": "quantitative", "scale": {"domain": [-0.31, 6.29], "nice": false, "zero": false}, "axis": {"values": [0, 2.5, 5], "labels": false, "title": null}},
           "y": {"field": "u1", "type": "quantitative", "scale": {"domain": [-0.15, 7.0], "nice": false, "zero": false}, "axis": {"values": [0, 7], "title": null}}}},
        {"width": 336, "height": 69, "data": {"name": "diagnostics"},
         "mark": {"type": "line", "color": "#1f77b4", "strokeWidth": 1.3, "point": {"filled": true, "size": 40, "color": "#1f77b4"}},
         "encoding": {
           "x": {"field": "k", "type": "quantitative", "scale": {"domain": [-0.31, 6.29], "nice": false, "zero": false}, "axis": {"values": [0, 2.5, 5], "labels": false, "title": null}},
           "y": {"field": "u2", "type": "quantitative", "scale": {"domain": [-0.1, 7.0], "nice": false, "zero": false}, "axis": {"values": [0, 7], "title": null}}}},
        {"width": 336, "height": 69, "data": {"name": "diagnostics"},
         "mark": {"type": "line", "color": "#1f77b4", "strokeWidth": 1.3, "point": {"filled": true, "size": 40, "color": "#1f77b4"}},
         "encoding": {
           "x": {"field": "k", "type": "quantitative", "scale": {"domain": [-0.31, 6.29], "nice": false, "zero": false}, "axis": {"values": [0, 2.5, 5], "labels": false, "title": null}},
           "y": {"field": "u3", "type": "quantitative", "scale": {"domain": [-0.1, 7.0], "nice": false, "zero": false}, "axis": {"values": [0, 7], "title": "|Uᵢ|, a. u.", "titlePadding": 8}}}},
        {"width": 336, "height": 69, "data": {"name": "diagnostics"},
         "mark": {"type": "line", "color": "#1f77b4", "strokeWidth": 1.3, "point": {"filled": true, "size": 40, "color": "#1f77b4"}},
         "encoding": {
           "x": {"field": "k", "type": "quantitative", "scale": {"domain": [-0.31, 6.29], "nice": false, "zero": false}, "axis": {"values": [0, 2.5, 5], "labels": false, "title": null}},
           "y": {"field": "u4", "type": "quantitative", "scale": {"domain": [-0.29, 9.23], "nice": false, "zero": false}, "axis": {"values": [0, 7], "title": null}}}},
        {"width": 336, "height": 69, "data": {"name": "diagnostics"},
         "mark": {"type": "line", "color": "#1f77b4", "strokeWidth": 1.3, "point": {"filled": true, "size": 40, "color": "#1f77b4"}},
         "encoding": {
           "x": {"field": "k", "type": "quantitative", "scale": {"domain": [-0.31, 6.29], "nice": false, "zero": false}, "axis": {"values": [0, 3, 6], "title": "Диагностики", "titlePadding": 5, "labelExpr": "datum.value == 0 ? '40' : datum.value == 3 ? '240_1' : '434'"}},
           "y": {"field": "u5", "type": "quantitative", "scale": {"domain": [-0.2, 7.0], "nice": false, "zero": false}, "axis": {"values": [0, 7], "title": null}}}}
      ]
    }
  ]
}
